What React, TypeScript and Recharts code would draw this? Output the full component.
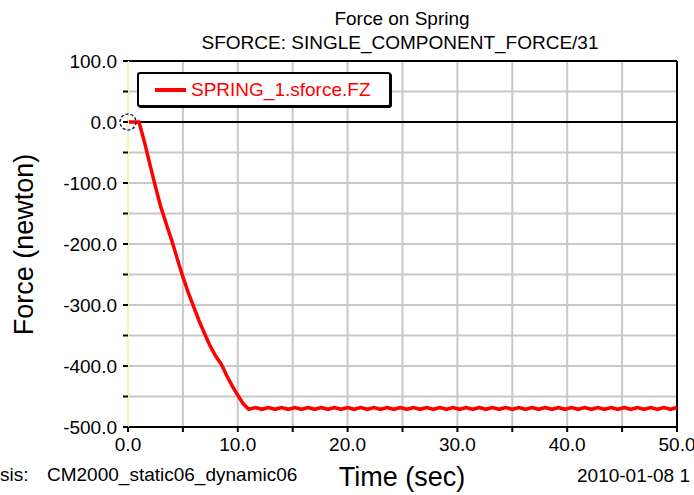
import React from 'react';
import {
    LineChart,
    Line,
    XAxis,
    YAxis,
    CartesianGrid,
    ReferenceLine,
    ReferenceDot,
    Legend,
} from 'recharts';

// Time samples (sec)
const timeSec = [
    0, 0.5, 1.0, 1.5, 2.0, 2.5, 3.0, 3.5, 4.0, 4.5,
    5.0, 5.5, 6.0, 6.5, 7.0, 7.5, 8.0, 8.5, 9.0, 9.5,
    10.0, 10.5,
    11.0, 11.6, 12.2, 12.8, 13.4, 14.0, 14.6, 15.2, 15.8, 16.4,
    17.0, 17.6, 18.2, 18.8, 19.4, 20.0, 20.6, 21.2, 21.8, 22.4,
    23.0, 23.6, 24.2, 24.8, 25.4, 26.0, 26.6, 27.2, 27.8, 28.4,
    29.0, 29.6, 30.2, 30.8, 31.4, 32.0, 32.6, 33.2, 33.8, 34.4,
    35.0, 35.6, 36.2, 36.8, 37.4, 38.0, 38.6, 39.2, 39.8, 40.4,
    41.0, 41.6, 42.2, 42.8, 43.4, 44.0, 44.6, 45.2, 45.8, 46.4,
    47.0, 47.6, 48.2, 48.8, 49.4, 50.0,
];

// SPRING_1.sforce.FZ (newton)
const springForce = [
    0, 0, 0, -33, -70, -106, -140, -168, -195, -225,
    -254, -280, -304, -327, -348, -368, -384, -397, -416, -433,
    -448, -462,
    -471, -468, -471, -468, -471, -468, -471, -468, -471, -468,
    -471, -468, -471, -468, -471, -468, -471, -468, -471, -468,
    -471, -468, -471, -468, -471, -468, -471, -468, -471, -468,
    -471, -468, -471, -468, -471, -468, -471, -468, -471, -468,
    -471, -468, -471, -468, -471, -468, -471, -468, -471, -468,
    -471, -468, -471, -468, -471, -468, -471, -468, -471, -468,
    -471, -468, -471, -468, -471, -468,
];

const xTicks = [0, 5, 10, 15, 20, 25, 30, 35, 40, 45, 50];
const yTicks = [-500, -450, -400, -350, -300, -250, -200, -150, -100, -50, 0, 50, 100];

const titleLines = ['Force on Spring', 'SFORCE: SINGLE_COMPONENT_FORCE/31'];
const seriesName = 'SPRING_1.sforce.FZ';

const FONT = '"Liberation Sans", Arial, sans-serif';

export default function App() {
    const data = timeSec.map((t, i) => ({ t, force: springForce[i] }));

    const textAt = (cx: number, cy: number, size: number, anchor: 'left' | 'center' = 'center') => ({
        position: 'absolute' as const,
        left: cx,
        top: cy - size / 2,
        fontSize: size,
        lineHeight: `${size}px`,
        fontFamily: FONT,
        color: '#000',
        whiteSpace: 'pre' as const,
        transform: anchor === 'center' ? 'translateX(-50%)' : undefined,
    });

    const renderLegend = () => (
        <div
            style={{
                width: 250,
                height: 31,
                border: '2px solid #000',
                borderRadius: 3,
                boxShadow: '1px 1px 0 #000',
                background: '#fff',
                display: 'flex',
                alignItems: 'center',
                fontFamily: FONT,
                fontSize: 19,
                color: '#ff0000',
            }}
        >
            <span style={{ width: 31, height: 4, background: '#ff0000', marginLeft: 16, marginRight: 5 }} />
            <span>{seriesName}</span>
        </div>
    );

    return (
        <div style={{ position: 'absolute', left: 0, top: 0, width: 694, height: 495, background: '#fff' }}>
            <div style={textAt(402, 18, 19)}>{titleLines[0]}</div>
            <div style={textAt(400, 42, 19)}>{titleLines[1]}</div>

            <LineChart
                width={694}
                height={495}
                data={data}
                margin={{ top: 61, right: 17, bottom: 0, left: 0 }}
            >
                <CartesianGrid stroke="#c8c8c8" strokeWidth={2} />
                <XAxis
                    dataKey="t"
                    type="number"
                    domain={[0, 50]}
                    ticks={xTicks}
                    height={68}
                    tickFormatter={(v) => (v % 10 === 0 ? v.toFixed(1) : '')}
                    axisLine={{ stroke: '#000', strokeWidth: 2 }}
                    tickLine={{ stroke: '#000', strokeWidth: 2 }}
                    tickSize={5}
                    tickMargin={6}
                    tick={{ fill: '#000', fontSize: 19, fontFamily: FONT }}
                />
                <YAxis
                    type="number"
                    domain={[-500, 100]}
                    ticks={yTicks}
                    width={128}
                    tickFormatter={(v) => (v % 100 === 0 ? v.toFixed(1) : '')}
                    axisLine={{ stroke: '#f6f6a6', strokeWidth: 2 }}
                    tickLine={{ stroke: '#000', strokeWidth: 2 }}
                    tickSize={5}
                    tickMargin={6}
                    tick={{ fill: '#000', fontSize: 19, fontFamily: FONT }}
                />
                <ReferenceLine y={0} stroke="#000" strokeWidth={2} />
                <ReferenceLine y={100} stroke="#000" strokeWidth={2} />
                <ReferenceLine x={50} stroke="#000" strokeWidth={2} />
                <Line
                    type="linear"
                    dataKey="force"
                    name={seriesName}
                    stroke="#ff0000"
                    strokeWidth={3.5}
                    dot={false}
                    isAnimationActive={false}
                />
                <ReferenceDot
                    x={0}
                    y={0}
                    r={8}
                    fill="none"
                    stroke="#1a1a80"
                    strokeWidth={1.5}
                    strokeDasharray="3 2"
                />
                <Legend
                    layout="horizontal"
                    verticalAlign="middle"
                    align="center"
                    content={renderLegend}
                    wrapperStyle={{ position: 'absolute', left: 137, top: 72, width: 254, height: 35 }}
                />
            </LineChart>

            <div
                style={{
                    ...textAt(24, 244, 27),
                    transform: 'translate(-50%, 0) rotate(-90deg)',
                }}
            >
                Force (newton)
            </div>
            <div style={textAt(402, 477, 27)}>Time (sec)</div>
            <div style={textAt(0, 474, 19, 'left')}>sis:</div>
            <div style={textAt(47, 474, 19, 'left')}>CM2000_static06_dynamic06</div>
            <div style={textAt(577, 475, 19, 'left')}>2010-01-08 1</div>
        </div>
    );
}
